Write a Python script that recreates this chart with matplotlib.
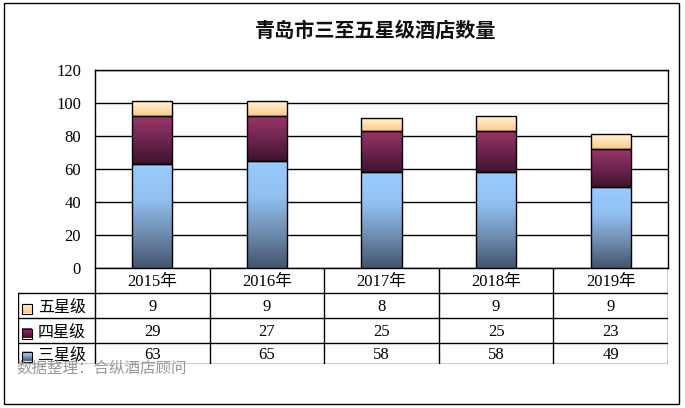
import numpy as np
import matplotlib
matplotlib.use("Agg")
import matplotlib.pyplot as plt
from matplotlib.colors import LinearSegmentedColormap
from matplotlib.patches import Rectangle

years = ["2015年", "2016年", "2017年", "2018年", "2019年"]
series_names = ["五星级", "四星级", "三星级"]
five_star = [9, 9, 8, 9, 9]
four_star = [29, 27, 25, 25, 23]
three_star = [63, 65, 58, 58, 49]
yticks = [0, 20, 40, 60, 80, 100, 120]
title = "青岛市三至五星级酒店数量"
source = "数据整理：合纵酒店顾问"

W, H = 685, 408
fig = plt.figure(figsize=(W / 100, H / 100), dpi=100)
FAM = ["Liberation Serif", "Noto Sans CJK SC"]
FS = 12

def fx(px):
    return px / W

def fy(py):
    return 1 - py / H

# outer frame
fig.patches.append(Rectangle((fx(4), fy(404)), fx(675), 401 / H, transform=fig.transFigure,
                             fill=False, edgecolor="black", linewidth=1.0))

# main plot
L, R, T, B = 95, 668, 70, 268
ax = fig.add_axes([fx(L), fy(B), fx(R - L), (B - T) / H])
x = np.arange(len(years))
ax.set_xlim(-0.5, len(years) - 0.5)
ax.set_ylim(0, 120)
ax.set_yticks(yticks)
ax.set_yticklabels([str(v) for v in yticks], family=FAM, fontsize=FS)
ax.tick_params(axis="y", length=0, pad=10)
ax.set_xticks([])
for v in yticks:
    ax.axhline(v, color="black", linewidth=1.0, zorder=1)
for s in ax.spines.values():
    s.set_linewidth(1.0)

cmaps = {
    "三星级": LinearSegmentedColormap.from_list("b", ["#44546d", "#6f8db0", "#92c0f0", "#99ccff"]),
    "四星级": LinearSegmentedColormap.from_list("m", ["#3d132c", "#6e2550", "#9a3667"]),
    "五星级": LinearSegmentedColormap.from_list("y", ["#ffc68e", "#ffe0b0", "#fff6d0"]),
}
grad = np.linspace(0, 1, 256).reshape(-1, 1)
bw = 0.35
bottoms = np.zeros(len(years))
for name, vals in [("三星级", three_star), ("四星级", four_star), ("五星级", five_star)]:
    bars = ax.bar(x, vals, bw, bottom=bottoms, facecolor="none", edgecolor="black",
                  linewidth=1.0, zorder=4)
    for p in bars.patches:
        x0, y0 = p.get_x(), p.get_y()
        im = ax.imshow(grad, extent=(x0, x0 + p.get_width(), y0, y0 + p.get_height()),
                       origin="lower", aspect="auto", cmap=cmaps[name], zorder=3)
        im.set_clip_path(p)
    bottoms = bottoms + np.array(vals)
ax.set_xlim(-0.5, len(years) - 0.5)
ax.set_ylim(0, 120)

# title
fig.text(fx(376), fy(30), title, ha="center", va="center", fontsize=14.5, fontweight="bold",
         family=["Noto Sans CJK SC"], color="#111111")

# table
TL, TB = 18, 364
unit = (R - L) / len(years)
tx0 = -0.5 - (L - TL) / unit
tab = fig.add_axes([fx(TL), fy(TB), fx(R - TL), (TB - B) / H])
tab.set_xlim(tx0, len(years) - 0.5)
tab.set_ylim(TB, B)
tab.axis("off")
rows = [B, 293, 318, 343, TB]
lw = 1.0
tab.plot([tx0, len(years) - 0.5], [rows[1], rows[1]], color="black", lw=lw)
for r in rows[2:]:
    tab.plot([tx0, len(years) - 0.5], [r, r], color="black", lw=lw)
for i in range(len(years) + 1):
    tab.plot([i - 0.5, i - 0.5], [rows[0], rows[-1]], color="black", lw=lw)
tab.plot([tx0, tx0], [rows[1], rows[-1]], color="black", lw=lw)
for i, yr in enumerate(years):
    tab.text(i, (rows[0] + rows[1]) / 2 + 1.5, yr, ha="center", va="center", fontsize=FS, family=FAM)
table_data = {"五星级": five_star, "四星级": four_star, "三星级": three_star}
sq = 10 / unit
for k, name in enumerate(series_names):
    yc = (rows[k + 1] + rows[k + 2]) / 2
    for i, v in enumerate(table_data[name]):
        tab.text(i, yc + 1.5, str(v), ha="center", va="center", fontsize=FS, family=FAM)
    sx = tx0 + 4 / unit
    tab.imshow(grad, extent=(sx, sx + sq, yc + 8, yc - 2), origin="lower", aspect="auto",
               cmap=cmaps[name], zorder=3)
    tab.add_patch(Rectangle((sx, yc - 2), sq, 10, fill=False, edgecolor="black", lw=0.8, zorder=4))
    tab.text(tx0 + 20 / unit, yc + 2, name, ha="left", va="center", fontsize=11.5, family=FAM)
tab.set_xlim(tx0, len(years) - 0.5)
tab.set_ylim(TB, B)

fig.text(fx(16), fy(368), source, ha="left", va="center", fontsize=11.2, color="#999999",
         family=["Noto Sans CJK SC"])

fig.savefig("out.png", dpi=100)
